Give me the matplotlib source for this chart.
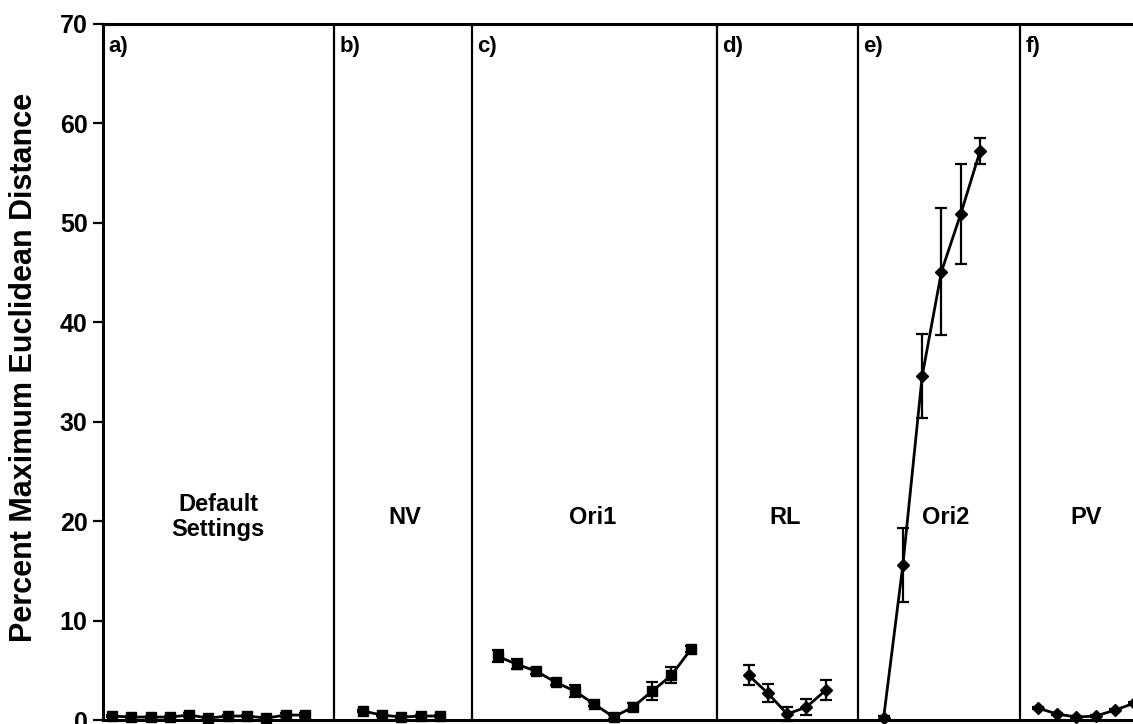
import matplotlib.pyplot as plt

plt.rcParams['font.family'] = ['Liberation Sans', 'DejaVu Sans']

# panels of the figure, left to right
panel_tags = ['a)', 'b)', 'c)', 'd)', 'e)', 'f)']
panel_names = ['Default\nSettings', 'NV', 'Ori1', 'RL', 'Ori2', 'PV']

# category index of the first point in each panel
first_idx = [0, 13, 20, 33, 40, 48]

mean_a = [0.4, 0.3, 0.3, 0.3, 0.5, 0.2, 0.4, 0.4, 0.2, 0.5, 0.5]
err_a = [0.1, 0.1, 0.1, 0.1, 0.2, 0.1, 0.1, 0.1, 0.1, 0.2, 0.2]
mean_b = [0.9, 0.5, 0.3, 0.4, 0.4]
err_b = [0.1, 0.1, 0.1, 0.1, 0.1]
mean_c = [6.4, 5.6, 4.9, 3.8, 2.9, 1.6, 0.3, 1.3, 2.9, 4.5, 7.1]
err_c = [0.6, 0.5, 0.3, 0.3, 0.6, 0.2, 0.2, 0.4, 0.9, 0.8, 0.3]
mean_d = [4.5, 2.7, 0.6, 1.3, 3.0]
err_d = [1.0, 0.9, 0.7, 0.8, 1.0]
mean_e = [0.2, 15.6, 34.6, 45.1, 50.9, 57.2]
err_e = [0.2, 3.7, 4.2, 6.4, 5.0, 1.3]
mean_f = [1.2, 0.6, 0.3, 0.4, 1.0, 1.7]
err_f = [0.1, 0.1, 0.1, 0.1, 0.1, 0.1]

means = [mean_a, mean_b, mean_c, mean_d, mean_e, mean_f]
errs = [err_a, err_b, err_c, err_d, err_e, err_f]

# layout (in category units)
dividers = [11.5, 18.65, 31.35, 38.67, 47.07]
panel_left = [-0.47] + dividers
name_x = [5.5, 15.2, 24.9, 34.9, 43.2, 50.5]
markers = ['s', 's', 's', 'D', 'D', 'D']

fig = plt.figure(figsize=(11.33, 7.24), dpi=100)
ax = fig.add_axes([0.0909, 0.0055, 0.9091, 0.9614])

for i in range(len(means)):
    xs = [first_idx[i] + k for k in range(len(means[i]))]
    ax.errorbar(xs, means[i], yerr=errs[i], color='black', lw=2,
                marker=markers[i], ms=6.5 if markers[i] == 's' else 6,
                elinewidth=1.6, capsize=4.5, capthick=1.6, clip_on=False)
    ax.text(name_x[i], 20.4, panel_names[i], ha='center', va='center',
            fontsize=17, fontweight='bold', linespacing=1.1)
    ax.annotate(panel_tags[i], (panel_left[i], 70), xytext=(4, -9),
                textcoords='offset points', ha='left', va='top',
                fontsize=16, fontweight='bold')

for d in dividers:
    ax.axvline(d, color='black', lw=1.6)

ax.set_xlim(-0.47, 52.93)
ax.set_ylim(0, 70)
ax.set_yticks(range(0, 71, 10))
ax.set_xticks([])
ax.tick_params(axis='y', direction='out', length=7, width=1.6,
               labelsize=18, pad=4)
for lab in ax.get_yticklabels():
    lab.set_fontweight('bold')
ax.spines['right'].set_visible(False)
for s in ['left', 'bottom', 'top']:
    ax.spines[s].set_linewidth(2.2)

fig.text(0.021, 0.493, 'Percent Maximum Euclidean Distance', rotation=90,
         ha='center', va='center', fontsize=22, fontweight='bold')

fig.savefig('out.png', dpi=100)
